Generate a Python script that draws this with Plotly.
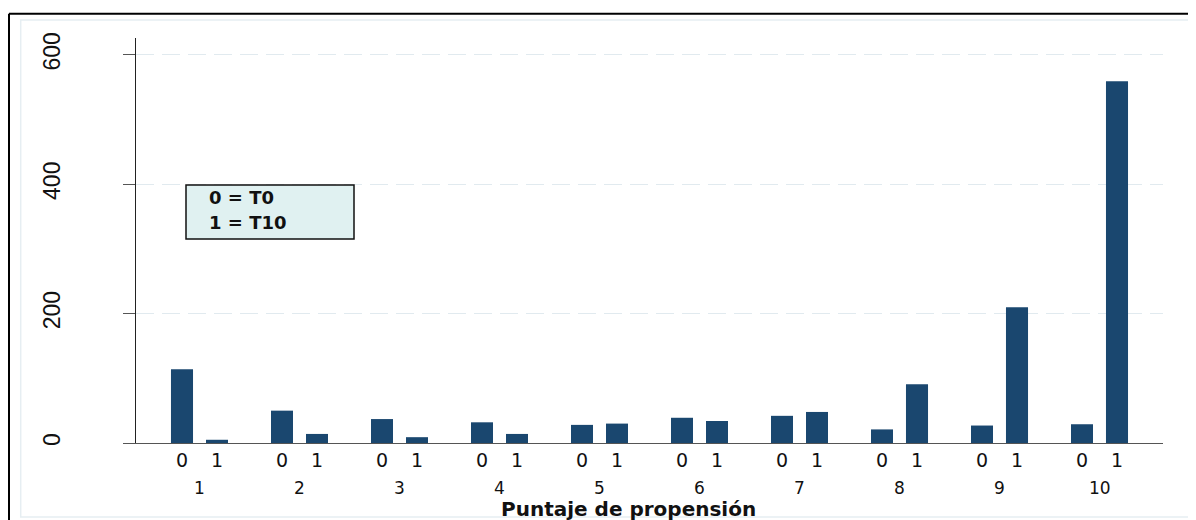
import plotly.graph_objects as go

# Data
groups = [1, 2, 3, 4, 5, 6, 7, 8, 9, 10]
t0_counts = [114, 50, 37, 32, 28, 39, 42, 21, 27, 29]
t10_counts = [5, 14, 9, 14, 30, 34, 48, 91, 210, 559]
sub_labels = ["0", "1"]
y_ticks = [0, 200, 400, 600]
x_title = "Puntaje de propensión"
legend_lines = ["0 = T0", "1 = T10"]

navy = "#1a476f"
BARGAP = 0.3
half = (1 - BARGAP) / 4  # centre offset of each bar inside a group

# page pixels -> figure (the page body has an 8px margin)
OFF = 8
W, H = 1196, 520
L, T = 136 - OFF, 38 - OFF
R = W - (1163 - OFF)
B = H - (443 - OFF)
pw, ph = W - L - R, H - T - B


def px(x):
    return (x - OFF - L) / pw


def py(y):
    return (H - B - (y - OFF)) / ph


fig = go.Figure()
fig.add_trace(go.Bar(x=groups, y=t0_counts, name="0", marker_color=navy,
                     marker_line_width=0))
fig.add_trace(go.Bar(x=groups, y=t10_counts, name="1", marker_color=navy,
                     marker_line_width=0))

tickvals = []
ticktext = []
for g in groups:
    tickvals += [g - half, g + half]
    ticktext += sub_labels

fig.update_layout(
    width=W, height=H,
    margin=dict(l=L, r=R, t=T, b=B),
    barmode="group",
    bargap=BARGAP,
    bargroupgap=0.37,
    showlegend=False,
    paper_bgcolor="white",
    plot_bgcolor="white",
    font=dict(family="DejaVu Sans", color="#111111"),
    xaxis=dict(
        range=[0.365, 10.635],
        tickvals=tickvals,
        ticktext=ticktext,
        ticks="",
        tickfont=dict(size=19, family="DejaVu Sans"),
        ticklabelstandoff=0,
        showline=True, linecolor="#555555", linewidth=1,
        showgrid=False, zeroline=False,
    ),
    yaxis=dict(
        range=[0, 626],
        tickvals=y_ticks,
        tickangle=-90,
        ticks="outside", ticklen=12, tickcolor="#555555",
        tickfont=dict(size=23, family="Liberation Sans Narrow, Liberation Sans"),
        ticklabelstandoff=54,
        showline=True, linecolor="#222222", linewidth=1,
        showgrid=True, gridcolor="#e1eaef", griddash="18px,8px", gridwidth=1.3,
        zeroline=False,
    ),
)

# group numbers under the 0/1 labels
for g in groups:
    fig.add_annotation(x=g, y=0, xref="x", yref="paper", yshift=-45,
                       yanchor="middle", showarrow=False, text=str(g),
                       font=dict(size=17, family="DejaVu Sans"))

# axis title
fig.add_annotation(x=px(628), y=py(509), xref="paper", yref="paper",
                   xanchor="center", yanchor="middle",
                   showarrow=False, text="<b>%s</b>" % x_title,
                   font=dict(size=20, family="DejaVu Sans"))

# legend box
fig.add_shape(type="rect", xref="paper", yref="paper",
              x0=px(186), x1=px(354), y0=py(239), y1=py(185),
              fillcolor="#e0f1f1", line=dict(color="#111111", width=1.5))
for i, line in enumerate(legend_lines):
    fig.add_annotation(x=px(207), y=py(197.5 + 25 * i), xref="paper", yref="paper",
                       xanchor="left", yanchor="middle", showarrow=False,
                       text="<b>%s</b>" % line,
                       font=dict(size=18, family="DejaVu Sans"))

# outer frames
fig.add_shape(type="rect", xref="paper", yref="paper",
              x0=px(20.7), x1=px(1192), y0=py(517), y1=py(20),
              line=dict(color="#e6eef2", width=1.5), layer="below")
fig.add_shape(type="line", xref="paper", yref="paper",
              x0=px(9), x1=px(9), y0=py(540), y1=py(13.7),
              line=dict(color="black", width=2))
fig.add_shape(type="line", xref="paper", yref="paper",
              x0=px(9), x1=px(1220), y0=py(13.7), y1=py(13.7),
              line=dict(color="black", width=2))

fig.write_html("out.html")
